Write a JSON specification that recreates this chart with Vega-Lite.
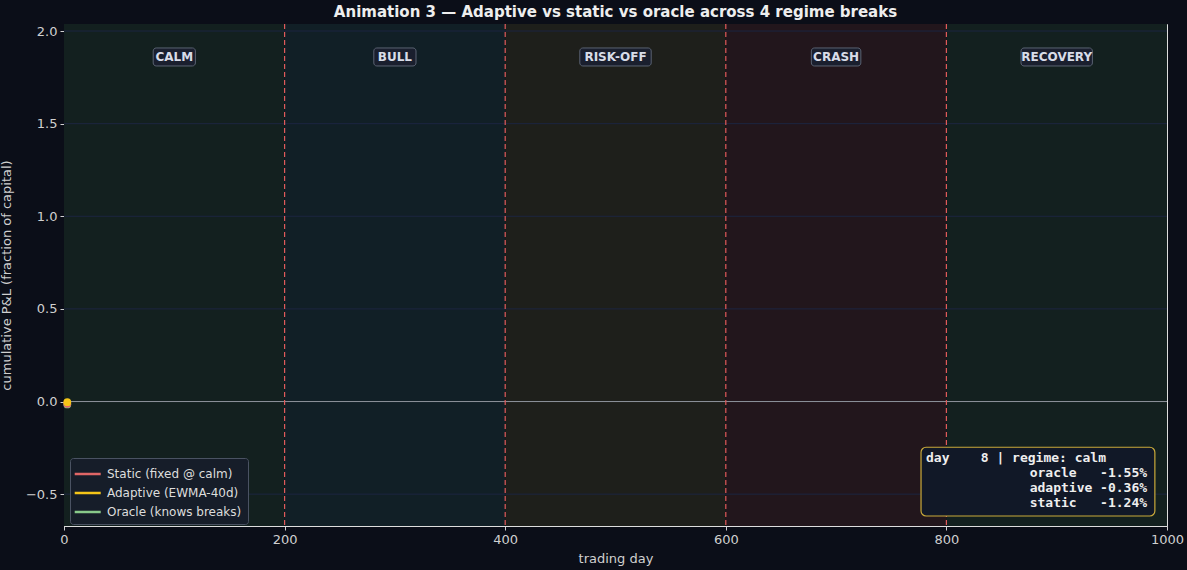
{
  "$schema": "https://vega.github.io/schema/vega-lite/v6.json",
  "width": 1103,
  "height": 502,
  "autosize": {"type": "none"},
  "padding": {"left": 64, "top": 24, "right": 20, "bottom": 44},
  "background": "#0b0e18",
  "title": {"text": "Animation 3 — Adaptive vs static vs oracle across 4 regime breaks", "fontSize": 15, "fontWeight": "bold", "color": "#eeeeee", "font": "DejaVu Sans", "anchor": "middle", "offset": 3},
  "config": {
    "font": "DejaVu Sans",
    "view": {"stroke": "#dddddd", "strokeWidth": 1},
    "axis": {"labelColor": "#d0d0d0", "labelFontSize": 13, "titleColor": "#d0d0d0", "titleFontSize": 13, "titleFontWeight": "normal", "tickColor": "#d0d0d0", "domainColor": "#dddddd", "tickSize": 4, "labelPadding": 3, "labelFlush": false, "grid": false},
    "legend": {"fillColor": "#161d29", "strokeColor": "#4a5262", "cornerRadius": 3, "padding": 6, "labelColor": "#dddddd", "labelFontSize": 12, "symbolType": "M-1.35,0H1.76", "symbolStrokeWidth": 2.5, "symbolSize": 280, "rowPadding": 3, "labelOffset": 11}
  },
  "datasets": {
    "regimes": [
      {"regime": "calm", "label": "CALM", "start": 0, "end": 200, "mid": 100},
      {"regime": "bull", "label": "BULL", "start": 200, "end": 400, "mid": 300},
      {"regime": "risk-off", "label": "RISK-OFF", "start": 400, "end": 600, "mid": 500},
      {"regime": "crash", "label": "CRASH", "start": 600, "end": 800, "mid": 700},
      {"regime": "recovery", "label": "RECOVERY", "start": 800, "end": 1000, "mid": 900}
    ],
    "breaks": [{"day": 200}, {"day": 400}, {"day": 600}, {"day": 800}],
    "ygrid": [{"y": -0.5}, {"y": 0.5}, {"y": 1.0}, {"y": 1.5}, {"y": 2.0}],
    "pnl": [
      {"day": 0, "series": "Static (fixed @ calm)", "pnl": 0},
      {"day": 1, "series": "Static (fixed @ calm)", "pnl": -0.004},
      {"day": 2, "series": "Static (fixed @ calm)", "pnl": -0.008},
      {"day": 3, "series": "Static (fixed @ calm)", "pnl": -0.0124},
      {"day": 0, "series": "Adaptive (EWMA-40d)", "pnl": 0},
      {"day": 1, "series": "Adaptive (EWMA-40d)", "pnl": -0.001},
      {"day": 2, "series": "Adaptive (EWMA-40d)", "pnl": -0.002},
      {"day": 3, "series": "Adaptive (EWMA-40d)", "pnl": -0.0036},
      {"day": 0, "series": "Oracle (knows breaks)", "pnl": 0},
      {"day": 1, "series": "Oracle (knows breaks)", "pnl": -0.005},
      {"day": 2, "series": "Oracle (knows breaks)", "pnl": -0.010},
      {"day": 3, "series": "Oracle (knows breaks)", "pnl": -0.0155}
    ],
    "info": [{"head": "day\u00a0\u00a0\u00a0\u00a08\u00a0|\u00a0regime:\u00a0calm", "rows": ["oracle\u00a0\u00a0\u00a0-1.55%", "adaptive\u00a0-0.36%", "static\u00a0\u00a0\u00a0-1.24%"]}]
  },
  "encoding": {
    "x": {"type": "quantitative", "scale": {"domain": [0, 1000], "nice": false, "zero": false}},
    "y": {"type": "quantitative", "scale": {"domain": [-0.672, 2.038], "nice": false, "zero": false}}
  },
  "layer": [
    {
      "data": {"name": "regimes"},
      "mark": {"type": "rect", "opacity": 1},
      "encoding": {
        "x": {"field": "start", "type": "quantitative", "axis": {"title": "trading day", "values": [0, 200, 400, 600, 800, 1000], "format": "d", "titlePadding": 6}},
        "x2": {"field": "end"},
        "y": {"datum": -0.672, "type": "quantitative", "axis": {"title": "cumulative P&L  (fraction of capital)", "values": [-0.5, 0, 0.5, 1, 1.5, 2], "format": ".1f", "titlePadding": 12}},
        "y2": {"datum": 2.038},
        "fill": {"field": "regime", "type": "nominal", "scale": {"domain": ["calm", "bull", "risk-off", "crash", "recovery"], "range": ["#13201f", "#111f26", "#1e1f1b", "#22161c", "#13201f"]}, "legend": null}
      }
    },
    {
      "data": {"name": "ygrid"},
      "mark": {"type": "rule", "color": "#1c2540", "strokeWidth": 1},
      "encoding": {"y": {"field": "y", "type": "quantitative"}}
    },
    {
      "data": {"name": "breaks"},
      "mark": {"type": "rule", "color": "#8a8f98", "strokeWidth": 1},
      "encoding": {"y": {"datum": 0, "type": "quantitative"}}
    },
    {
      "data": {"name": "breaks"},
      "mark": {"type": "rule", "color": "#e05a5a", "strokeWidth": 1.2, "strokeDash": [5, 3]},
      "encoding": {"x": {"field": "day", "type": "quantitative"}}
    },
    {
      "data": {"name": "regimes"},
      "mark": {"type": "rect", "fill": "#1a1f2e", "stroke": "#5a6272", "strokeWidth": 1, "cornerRadius": 3, "height": 18, "width": {"expr": "length(datum.label) * 7.3 + 13"}},
      "encoding": {
        "x": {"field": "mid", "type": "quantitative"},
        "y": {"datum": 1.86, "type": "quantitative"}
      }
    },
    {
      "data": {"name": "regimes"},
      "mark": {"type": "text", "fontWeight": "bold", "fontSize": 12, "color": "#d8dce8", "align": "center", "baseline": "middle"},
      "encoding": {
        "x": {"field": "mid", "type": "quantitative"},
        "y": {"datum": 1.86, "type": "quantitative"},
        "text": {"field": "label"}
      }
    },
    {
      "data": {"name": "pnl"},
      "mark": {"type": "line", "strokeWidth": 2.2},
      "encoding": {
        "x": {"field": "day", "type": "quantitative"},
        "y": {"field": "pnl", "type": "quantitative"},
        "stroke": {"field": "series", "type": "nominal", "scale": {"domain": ["Static (fixed @ calm)", "Adaptive (EWMA-40d)", "Oracle (knows breaks)"], "range": ["#e06666", "#f5c518", "#88c98a"]}, "legend": {"title": null, "orient": "none", "legendX": 6, "legendY": 434}}
      }
    },
    {
      "data": {"name": "pnl"},
      "transform": [{"filter": "datum.day == 3"}],
      "mark": {"type": "point", "filled": true, "size": 60, "opacity": 1},
      "encoding": {
        "x": {"field": "day", "type": "quantitative"},
        "y": {"field": "pnl", "type": "quantitative"},
        "fill": {"field": "series", "type": "nominal", "scale": {"domain": ["Oracle (knows breaks)", "Static (fixed @ calm)", "Adaptive (EWMA-40d)"], "range": ["#88c98a", "#e06666", "#f5c518"]}, "legend": null},
        "order": {"field": "pnl", "sort": "ascending"}
      }
    },
    {
      "data": {"name": "info"},
      "mark": {"type": "rect", "fill": "#111827", "stroke": "#c9a93a", "strokeWidth": 1.2, "cornerRadius": 5},
      "encoding": {
        "x": {"datum": 777, "type": "quantitative"},
        "x2": {"datum": 989},
        "y": {"datum": -0.247, "type": "quantitative"},
        "y2": {"datum": -0.618}
      }
    },
    {
      "data": {"name": "info"},
      "mark": {"type": "text", "font": "DejaVu Sans Mono", "fontWeight": "bold", "fontSize": 13, "color": "#eeeeee", "align": "left", "baseline": "top"},
      "encoding": {
        "x": {"datum": 781.5, "type": "quantitative"},
        "y": {"datum": -0.272, "type": "quantitative"},
        "text": {"field": "head"}
      }
    },
    {
      "data": {"name": "info"},
      "mark": {"type": "text", "font": "DejaVu Sans Mono", "fontWeight": "bold", "fontSize": 13, "lineHeight": 15, "color": "#eeeeee", "align": "left", "baseline": "top"},
      "encoding": {
        "x": {"datum": 875.5, "type": "quantitative"},
        "y": {"datum": -0.3526, "type": "quantitative"},
        "text": {"field": "rows"}
      }
    }
  ],
  "resolve": {"scale": {"fill": "independent"}}
}
